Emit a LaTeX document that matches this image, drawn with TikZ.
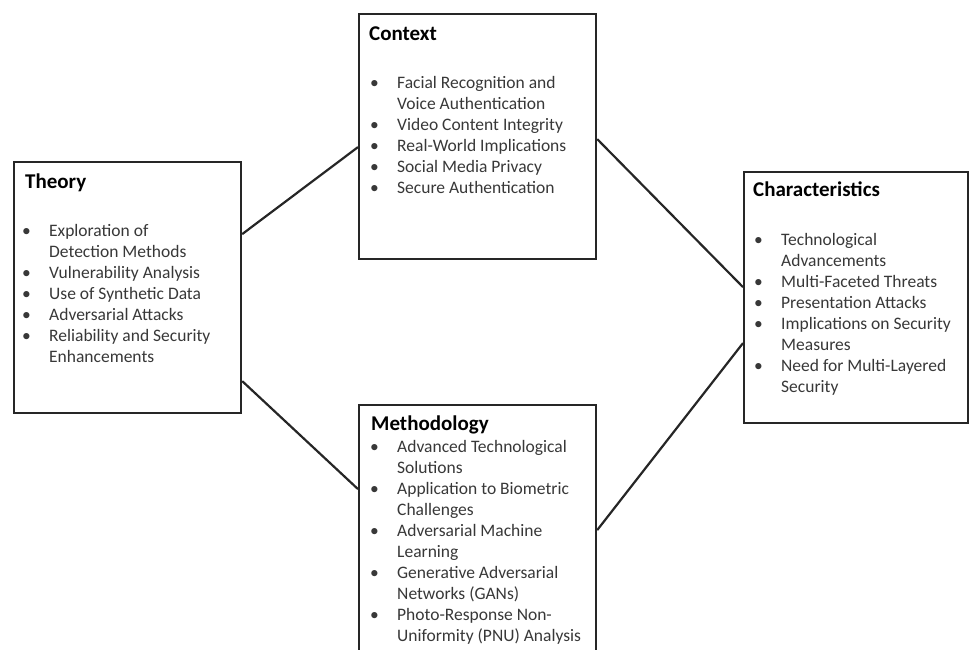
\documentclass[tikz,border=0pt]{standalone}
\usepackage{fontspec}
\setmainfont{Carlito}
\usetikzlibrary{positioning}

\newcommand{\bul}{\makebox[27pt][l]{\textbullet}}
\newcommand{\nob}{\hspace*{27pt}}

\tikzset{
  panel/.style={draw=black!85, line width=2.2pt, rectangle, fill=white, inner sep=0pt, anchor=north west},
  head/.style={anchor=base west, inner sep=0pt, font={\fontsize{21}{25}\selectfont\bfseries}},
  items/.style={anchor=north west, inner sep=0pt, align=left, text=black!78, font={\fontsize{17.5}{21}\selectfont}},
  link/.style={line width=2.2pt, black!85}
}

\begin{document}
\begin{tikzpicture}[x=1pt, y=-1pt]
  \useasboundingbox (0,0) rectangle (970,649);

  % boxes
  \node[panel, minimum width=227pt, minimum height=251pt] (theory) at (13,161) {};
  \node[panel, minimum width=237pt, minimum height=245pt] (context) at (358,13) {};
  \node[panel, minimum width=237pt, minimum height=261pt] (method) at (358,404) {};
  \node[panel, minimum width=224pt, minimum height=251pt] (charact) at (743,171) {};

  % headings
  \node[head] (theoryhead) at (25,188) {Theory};
  \node[head] (contexthead) at (369,40) {Context};
  \node[head] (methodhead) at (371,430) {Methodology};
  \node[head] (characthead) at (753,196) {Characteristics};

  % lists
  \node[items] (theorylist) at (22,224.5) {%
    \bul Exploration of\\ \nob Detection Methods\\
    \bul Vulnerability Analysis\\
    \bul Use of Synthetic Data\\
    \bul Adversarial Attacks\\
    \bul Reliability and Security\\ \nob Enhancements};
  \node[items] (contextlist) at (370,76.5) {%
    \bul Facial Recognition and\\ \nob Voice Authentication\\
    \bul Video Content Integrity\\
    \bul Real-World Implications\\
    \bul Social Media Privacy\\
    \bul Secure Authentication};
  \node[items] (methodlist) at (370,440.5) {%
    \bul Advanced Technological\\ \nob Solutions\\
    \bul Application to Biometric\\ \nob Challenges\\
    \bul Adversarial Machine\\ \nob Learning\\
    \bul Generative Adversarial\\ \nob Networks (GANs)\\
    \bul Photo-Response Non-\\ \nob Uniformity (PNU) Analysis};
  \node[items] (charactlist) at (754,233.5) {%
    \bul Technological\\ \nob Advancements\\
    \bul Multi-Faceted Threats\\
    \bul Presentation Attacks\\
    \bul Implications on Security\\ \nob Measures\\
    \bul Need for Multi-Layered\\ \nob Security};

  % links
  \draw[link] ([yshift=53.5pt]theory.east) -- ([yshift=-10.5pt]context.west);
  \draw[link] ([yshift=-93.5pt]theory.east) -- ([yshift=46.5pt]method.west);
  \draw[link] ([yshift=-2.5pt]context.east) -- ([yshift=10.5pt]charact.west);
  \draw[link] ([yshift=5.5pt]method.east) -- ([yshift=-45.5pt]charact.west);
\end{tikzpicture}
\end{document}
